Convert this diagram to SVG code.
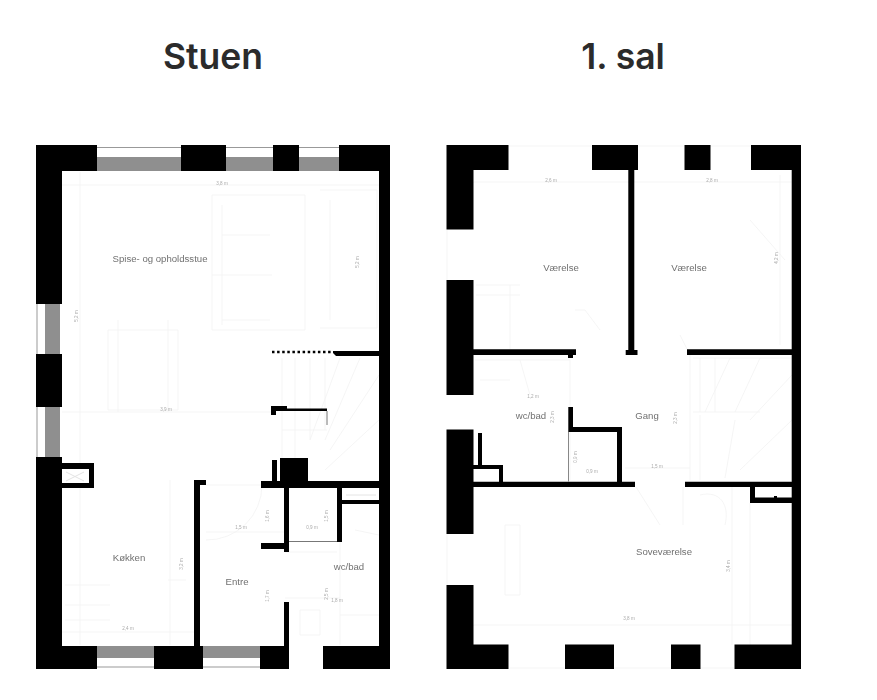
<svg xmlns="http://www.w3.org/2000/svg" width="877" height="700" viewBox="0 0 877 700">
<style>
.title{font-family:"Inter","Open Sans","Liberation Sans",sans-serif;font-size:35.5px;font-weight:600;fill:#2b2b2b;text-anchor:middle}
.room{font-family:"Liberation Sans",sans-serif;font-size:9.6px;fill:#707070;text-anchor:middle}
.dim{font-family:"Liberation Sans",sans-serif;font-size:4.6px;fill:#aaa;text-anchor:middle}
.w{fill:#000}
.g{fill:#8f8f8f}
.f{fill:none;stroke:#f3f3f3;stroke-width:.8}
</style>
<defs><filter id="soft" x="-5%" y="-5%" width="110%" height="110%"><feGaussianBlur stdDeviation="0.6"/></filter></defs>
<rect width="877" height="700" fill="#fff"/>
<text class="title" x="213" y="69">Stuen</text>
<text class="title" x="623" y="69">1. sal</text>

<g id="stuen" filter="url(#soft)">
<g id="stuen-furniture">
<path class="f" d="M62 185H379M212 195V330M212 195H305V330H212M222 205V325M320 190H377V328H320M330 200V320M212 275H272M222 235H270M222 320H270"/>
<path class="f" d="M108 330H178V410H108ZM118 320V412M168 320V412M80 172V645M62 412H272M282 358V460M295 358V460M310 358V440M325 358V430M340 358L310 440M360 358L325 440M379 375L330 450M379 420L325 470M282 430H327"/>
<path class="f" d="M65 585H110M65 605H110M65 620H110M170 480V645M168 580H186M62 632H194M206 485H262M262 485A55 55 0 0 1 206 540M206 532H284M285 552H337M285 598H340M300 610H320V635H300ZM340 520V645M340 615H379M355 530L379 535"/>
</g>
<g id="stuen-windows">
<path class="g" d="M97 157H181V171H97ZM226 157H273V171H226ZM299 157H339V171H299ZM45 304H60V354H45ZM45 407H60V457H45ZM97 646H154V658H97ZM203 646H260V658H203Z"/>
<path d="M97 147.500H181M226 147.500H273M299 147.500H339M97 667H154M203 667H260M37 304V354M37 407V457" fill="none" stroke="#999" stroke-width="1"/>
</g>
<g id="stuen-walls" class="w">
<path d="M36 145H97V171H62V304H36ZM181 145H226V171H181ZM273 145H299V171H273ZM339 145H390V669H323V646H379V171H339ZM36 354H62V407H36ZM36 457H62V463H94V488H62V646H97V669H36ZM154 646H194V480H206V485H200V646H203V669H154ZM260 646H284V602H289V669H260Z"/>
<path d="M333 351H379V356H336L333 353Z"/>
<path d="M271 406H287V408.500H327V411H276V415H271Z"/>
<path d="M280 458H308V481H379V488H342V500H379V504H342V542H337V488H289V552H284V549H261V543H284V488H261V481H272V460H277V481H280Z"/>
</g>
<rect x="62" y="469" width="27" height="14" fill="#fff"/>
<path d="M272 352H333" stroke="#000" stroke-width="2.500" stroke-dasharray="2.500 2.600" fill="none"/>
<path d="M327 411V425M289 541.500H337" fill="none" stroke="#777" stroke-width="1"/>
<path d="M66 472L84 481M84 472L66 481M346 495H376" fill="none" stroke="#e4e4e4" stroke-width="1"/>
<g id="stuen-labels">
<text class="room" x="160" y="262">Spise- og opholdsstue</text>
<text class="room" x="129" y="561">Køkken</text>
<text class="room" x="237" y="585">Entre</text>
<text class="room" x="349" y="570">wc/bad</text>
<text class="dim" x="222" y="185">3,8 m</text>
<text class="dim" transform="translate(359 262) rotate(-90)">5,2 m</text>
<text class="dim" transform="translate(78 316) rotate(-90)">5,2 m</text>
<text class="dim" x="166" y="411">3,9 m</text>
<text class="dim" x="128" y="630">2,4 m</text>
<text class="dim" transform="translate(183 564) rotate(-90)">3,2 m</text>
<text class="dim" x="241" y="529">1,5 m</text>
<text class="dim" transform="translate(269 516) rotate(-90)">1,6 m</text>
<text class="dim" x="312" y="529">0,9 m</text>
<text class="dim" transform="translate(328 516) rotate(-90)">1,5 m</text>
<text class="dim" transform="translate(269 596) rotate(-90)">1,7 m</text>
<text class="dim" transform="translate(328 594) rotate(-90)">2,5 m</text>
<text class="dim" x="337" y="602">1,8 m</text>
</g>
</g>

<g id="sal" filter="url(#soft)">
<g id="sal-furniture">
<path class="f" d="M473 182H792M508 146H592M638 146H684M710 146H751M510 668H565M614 668H671M700 668H734M447 230V280M447 534V585M476 285H520M476 295H520M510 285V349M600 330L585 310H575M680 335L690 355"/>
<path class="f" d="M780 175V345M750 220L785 260M475 360H570V480M520 360L530 395M480 380H510M690 355V480M693 358H792M693 412H760M700 358V412M715 358V412M730 358L705 412M760 358L735 412M792 375L750 420M792 420L740 470M735 420L725 478M700 415V480"/>
<path class="f" d="M625 468H690M636 487L660 525M683 487V525M700 495C720 490 730 505 725 525M750 503V645M732 487V645M473 625H792M505 525H520V595H505Z"/>
</g>
<g id="sal-walls" class="w">
<path d="M446.500 145H508.500V170H473.500V229.500H446.500ZM592 145H638V170H634.300V350H637.500V355H625.700V350H628.300V170H592ZM684.500 145H710.500V170H684.500ZM751 145H801V669H734.500V644.500H791.700V170H751Z"/>
<path d="M687 349.300H792V355H687ZM685 481.700H792V487H685ZM750 487H755V497.500H792V503H750Z"/>
<path d="M446.500 280H473.500V349.300H576V355H573V358H568V355H473.500V395H446.500Z"/>
<path d="M568.300 407H573V427H622V481.700H635V487H473.500V534H446.500V429.500H473.500V465H478V433H482V465H503V481.700H617V432H568.300ZM473.500 469V481.700H499V469Z" fill-rule="evenodd"/>
<path d="M446.500 585H473.500V644.500H508.500V669H446.500ZM565 644.500H614V669H565ZM671 644.500H700.500V669H671Z"/>
<rect x="774" y="496" width="3" height="4"/>
</g>
<path d="M568.500 432V481.700" stroke="#888" stroke-width="1" fill="none"/>
<g id="sal-labels">
<text class="room" x="561" y="271">Værelse</text>
<text class="room" x="689" y="271">Værelse</text>
<text class="room" x="531" y="419">wc/bad</text>
<text class="room" x="647" y="419">Gang</text>
<text class="room" x="664" y="555">Soveværelse</text>
<text class="dim" x="551" y="182">2,6 m</text>
<text class="dim" x="712" y="182">2,8 m</text>
<text class="dim" transform="translate(778 258) rotate(-90)">4,2 m</text>
<text class="dim" x="533" y="398">1,2 m</text>
<text class="dim" transform="translate(554 417) rotate(-90)">2,3 m</text>
<text class="dim" transform="translate(677 418) rotate(-90)">2,3 m</text>
<text class="dim" transform="translate(577 457) rotate(-90)">0,9 m</text>
<text class="dim" x="592" y="473">0,9 m</text>
<text class="dim" x="657" y="468">1,5 m</text>
<text class="dim" transform="translate(730 566) rotate(-90)">3,4 m</text>
<text class="dim" x="629" y="620">3,8 m</text>
</g>
</g>
</svg>
